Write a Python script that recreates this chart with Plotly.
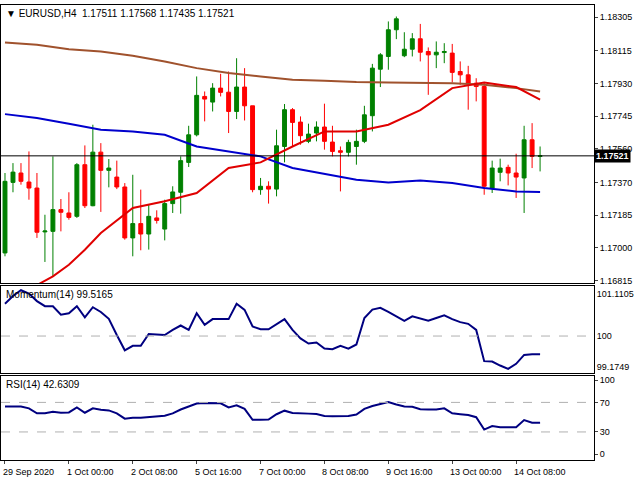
import plotly.graph_objects as go
from plotly.subplots import make_subplots

opens = [1.16972,1.17371,1.17424,1.17373,1.17339,1.17091,1.17094,1.17217,1.17198,1.17179,
         1.17471,1.17239,1.17542,1.17439,1.17401,1.17345,1.17057,1.17138,1.17079,1.17170,
         1.17107,1.17251,1.17315,1.17484,1.17640,1.17857,1.17825,1.17904,1.17881,1.17772,
         1.17910,1.17804,1.17330,1.17349,1.17333,1.17574,1.17782,1.17712,1.17603,1.17650,
         1.17684,1.17599,1.17550,1.17541,1.17574,1.17603,1.17748,1.18011,1.18083,1.18234,
         1.18087,1.18124,1.18183,1.18111,1.18092,1.18105,1.18102,1.17998,1.17979,1.17932,
         1.17913,1.17339,1.17428,1.17456,1.17424,1.17396,1.17612,1.17518]
highs = [1.17424,1.17480,1.17480,1.17546,1.17424,1.17188,1.17518,1.17277,1.17315,1.17480,
         1.17580,1.17697,1.17593,1.17503,1.17494,1.17367,1.17414,1.17330,1.17245,1.17213,
         1.17273,1.17349,1.17518,1.17691,1.17970,1.17885,1.17932,1.17985,1.17998,1.18073,
         1.18017,1.17804,1.17396,1.17377,1.17669,1.17814,1.17791,1.17744,1.17703,1.17716,
         1.17816,1.17691,1.17574,1.17612,1.17669,1.17804,1.18041,1.18102,1.18281,1.18309,
         1.18220,1.18215,1.18267,1.18134,1.18168,1.18158,1.18154,1.18055,1.18030,1.17960,
         1.17932,1.17494,1.17505,1.17471,1.17533,1.17691,1.17706,1.17574]
lows = [1.16953,1.17315,1.17358,1.17273,1.17057,1.16921,1.16838,1.17094,1.17160,1.17170,
        1.17226,1.17236,1.17204,1.17343,1.17333,1.17047,1.16953,1.16987,1.16991,1.17138,
        1.17043,1.17198,1.17194,1.17458,1.17631,1.17716,1.17772,1.17857,1.17650,1.17729,
        1.17721,1.17315,1.17301,1.17251,1.17292,1.17484,1.17574,1.17584,1.17593,1.17603,
        1.17556,1.17518,1.17320,1.17518,1.17471,1.17593,1.17659,1.17910,1.18008,1.18181,
        1.18079,1.18083,1.18055,1.17866,1.18017,1.18045,1.17936,1.17923,1.17782,1.17829,
        1.17301,1.17311,1.17377,1.17354,1.17283,1.17198,1.17452,1.17433]
closes = [1.17377,1.17429,1.17377,1.17339,1.17089,1.17096,1.17217,1.17202,1.17173,1.17471,
          1.17239,1.17542,1.17439,1.17452,1.17345,1.17057,1.17138,1.17079,1.17179,1.17156,
          1.17251,1.17317,1.17494,1.17640,1.17863,1.17842,1.17904,1.17880,1.17772,1.17910,
          1.17804,1.17330,1.17349,1.17333,1.17578,1.17782,1.17710,1.17635,1.17644,1.17684,
          1.17603,1.17546,1.17541,1.17597,1.17603,1.17753,1.18017,1.18092,1.18234,1.18296,
          1.18124,1.18183,1.18107,1.18092,1.18107,1.18111,1.17993,1.17979,1.17928,1.17913,
          1.17349,1.17452,1.17452,1.17424,1.17401,1.17612,1.17518,1.17521]

ma_idx = [0,4,8,12,16,20,24,28,32,36,40,44,48,52,56,60,64,67]
ma_slow = [1.18162,1.18149,1.18124,1.18111,1.18087,1.18055,1.18017,1.17989,1.17970,1.17951,
           1.17945,1.17938,1.17936,1.17932,1.17932,1.17923,1.17904,1.17885]
ma_mid = [1.17757,1.17735,1.17703,1.17669,1.17659,1.17640,1.17574,1.17546,1.17518,1.17452,
          1.17420,1.17386,1.17371,1.17381,1.17367,1.17339,1.17320,1.17317]
fast_idx = [4,6,8,10,12,16,20,24,28,32,36,40,44,48,52,56,60,64,67]
ma_fast = [1.16790,1.16840,1.16905,1.16990,1.17085,1.17226,1.17264,1.17311,1.17452,1.17484,
           1.17574,1.17659,1.17659,1.17697,1.17780,1.17904,1.17936,1.17910,1.17839]

momentum = [100.852,101.058,101.211,101.121,100.924,100.789,100.789,100.565,100.601,100.789,
            100.493,100.762,100.637,100.457,100.027,99.623,99.740,99.740,100.054,100.036,
            100.027,100.161,100.278,100.161,100.601,100.296,100.448,100.448,100.448,100.852,
            100.691,100.251,100.179,100.179,100.314,100.448,100.161,99.937,99.803,99.830,
            99.668,99.650,99.740,99.668,99.776,100.475,100.700,100.744,100.637,100.520,
            100.404,100.520,100.457,100.404,100.475,100.547,100.448,100.368,100.323,100.161,
            99.336,99.327,99.220,99.130,99.265,99.500,99.516,99.516]
rsi = [64.4,64.4,64.4,62.0,55.2,55.2,57.2,56.0,56.4,63.2,56.0,62.0,60.0,59.2,55.2,48.0,49.2,49.2,
       50.0,51.2,52.0,55.2,60.4,64.4,68.4,69.2,69.2,68.8,63.2,66.0,61.2,46.4,46.4,46.8,54.0,58.8,
       55.6,54.8,54.8,54.4,51.6,51.2,51.2,51.6,53.6,61.2,65.2,67.6,70.4,67.2,64.4,64.0,60.8,60.4,
       60.4,62.0,55.2,54.0,52.8,50.0,33.2,38.0,36.4,36.4,36.4,46.0,42.4,42.6]

date_idx = [0,8,16,24,32,40,48,56,64]
date_labels = ["29 Sep 2020","1 Oct 00:00","2 Oct 08:00","5 Oct 16:00","7 Oct 00:00",
               "8 Oct 08:00","9 Oct 16:00","13 Oct 00:00","14 Oct 08:00"]
price_ticks = [1.18305,1.18115,1.17930,1.17745,1.17560,1.17370,1.17185,1.17000,1.16815]
last_price = 1.17521

x = list(range(len(opens)))
F = "Liberation Sans"
fig = make_subplots(rows=3, cols=1, shared_xaxes=True, vertical_spacing=0)
fig.add_trace(go.Candlestick(x=x, open=opens, high=highs, low=lows, close=closes,
    increasing=dict(line=dict(color="#008000", width=1), fillcolor="#008000"),
    decreasing=dict(line=dict(color="#FF0000", width=1), fillcolor="#FF0000"),
    whiskerwidth=0, hoverinfo="skip"), row=1, col=1)
fig.add_trace(go.Scatter(x=ma_idx, y=ma_slow, mode="lines", line=dict(color="#A0522D", width=2)), row=1, col=1)
fig.add_trace(go.Scatter(x=ma_idx, y=ma_mid, mode="lines", line=dict(color="#0000CD", width=2)), row=1, col=1)
fig.add_trace(go.Scatter(x=fast_idx, y=ma_fast, mode="lines", line=dict(color="#E00000", width=2)), row=1, col=1)
fig.add_trace(go.Scatter(x=x, y=momentum, mode="lines", line=dict(color="#000080", width=2)), row=2, col=1)
fig.add_trace(go.Scatter(x=x, y=rsi, mode="lines", line=dict(color="#000080", width=2)), row=3, col=1)

fig.add_hline(y=last_price, line=dict(color="black", width=1), row=1, col=1)
fig.add_hline(y=100, line=dict(color="#B0B0B0", width=1, dash="dash"), row=2, col=1)
for v in (70, 30):
    fig.add_hline(y=v, line=dict(color="#B0B0B0", width=1, dash="dash"), row=3, col=1)

ax = dict(showline=True, linecolor="black", linewidth=1, mirror=True, showgrid=False, zeroline=False)
for r in (1, 2, 3):
    fig.update_xaxes(range=[-0.5, 73.75], showticklabels=False, ticks="", rangeslider_visible=False, row=r, col=1, **ax)
fig.update_xaxes(ticks="outside", ticklen=3, tickvals=date_idx, showticklabels=False, row=3, col=1)

fig.update_yaxes(side="right", range=[1.16802, 1.18374], tickvals=price_ticks,
                 ticktext=[f"{v:.5f}" for v in price_ticks], ticks="outside", ticklen=3, row=1, col=1, **ax)
fig.update_yaxes(side="right", range=[99.02, 101.33], tickvals=[101.1105, 100, 99.1749],
                 ticktext=["101.1105", "100", "99.1749"], ticks="", row=2, col=1, **ax)
fig.update_yaxes(side="right", range=[-8, 106], tickvals=[100, 70, 30, 0],
                 ticktext=["100", "70", "30", "0"], ticks="outside", ticklen=3, row=3, col=1, **ax)

fig.update_layout(width=640, height=480, margin=dict(l=1, r=46, t=5, b=20),
    plot_bgcolor="white", paper_bgcolor="white", showlegend=False,
    font=dict(family=F, size=9, color="black"),
    yaxis=dict(domain=[0.389, 1.0]), yaxis2=dict(domain=[0.191, 0.383]), yaxis3=dict(domain=[0.0, 0.185]))

ann = [
    dict(text="▼ EURUSD,H4  1.17511 1.17568 1.17435 1.17521", x=0.005, y=0.997, xref="paper", yref="paper",
         xanchor="left", yanchor="top", showarrow=False, font=dict(size=10)),
    dict(text="Momentum(14) 99.5165", x=0.005, y=0.381, xref="paper", yref="paper",
         xanchor="left", yanchor="top", showarrow=False, font=dict(size=10)),
    dict(text="RSI(14) 42.6309", x=0.005, y=0.183, xref="paper", yref="paper",
         xanchor="left", yanchor="top", showarrow=False, font=dict(size=10)),
    dict(text="<b>" + f"{last_price:.5f}" + "</b>", x=1.0, y=last_price, xref="paper", yref="y",
         xanchor="left", yanchor="middle", showarrow=False, bgcolor="black", font=dict(size=9, color="white")),
]
for i, lab in zip(date_idx, date_labels):
    ann.append(dict(text=lab, x=i, y=-0.012, xref="x3", yref="paper", xanchor="left", yanchor="top",
                    xshift=-4, showarrow=False, font=dict(size=9)))
fig.update_layout(annotations=ann)
fig.write_html("out.html", config={"displayModeBar": False},
               post_script="document.body.style.margin='0';")
